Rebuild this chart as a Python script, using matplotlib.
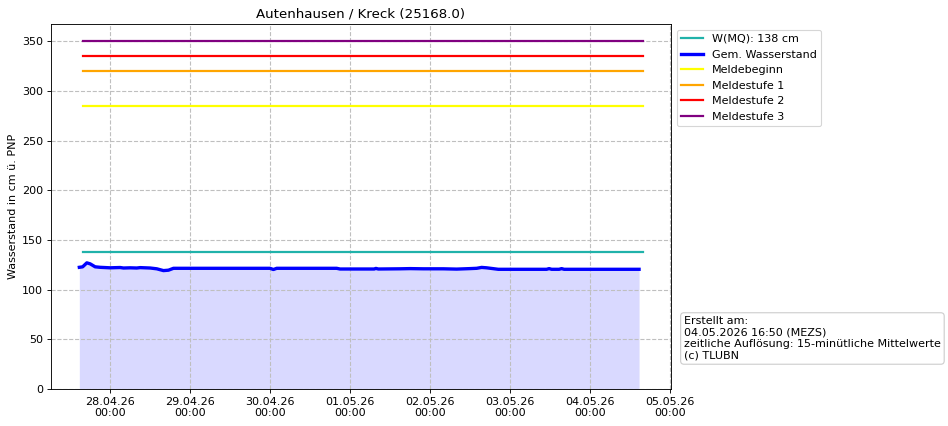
import pandas as pd
import matplotlib
matplotlib.use('Agg')
import matplotlib.pyplot as plt
import matplotlib.dates as mdates

# Pegel / Stammdaten
titel = 'Autenhausen / Kreck (25168.0)'
mq = 138
meldebeginn = 285
meldestufe1 = 320
meldestufe2 = 335
meldestufe3 = 350

zeiten = ['2026-04-27 14:45', '2026-04-27 15:45', '2026-04-27 17:00', '2026-04-27 18:00',
          '2026-04-27 19:30', '2026-04-27 21:00', '2026-04-28 00:00', '2026-04-28 03:00',
          '2026-04-28 04:00', '2026-04-28 06:00', '2026-04-28 08:00', '2026-04-28 09:00',
          '2026-04-28 12:00', '2026-04-28 14:00', '2026-04-28 16:00', '2026-04-28 17:30',
          '2026-04-28 19:00', '2026-04-29 00:00', '2026-04-29 12:00', '2026-04-30 00:00',
          '2026-04-30 01:00', '2026-04-30 02:00', '2026-04-30 03:00', '2026-04-30 12:00',
          '2026-04-30 20:00', '2026-04-30 21:00', '2026-05-01 07:15', '2026-05-01 07:45',
          '2026-05-01 08:30', '2026-05-01 15:00', '2026-05-01 18:00', '2026-05-01 22:00',
          '2026-05-02 04:00', '2026-05-02 08:00', '2026-05-02 12:00', '2026-05-02 14:00',
          '2026-05-02 15:30', '2026-05-02 17:00', '2026-05-02 20:30', '2026-05-03 11:00',
          '2026-05-03 11:45', '2026-05-03 12:30', '2026-05-03 14:45', '2026-05-03 15:30',
          '2026-05-03 16:15', '2026-05-04 00:00', '2026-05-04 14:45']
werte = [122.5, 123.0, 127.0, 126.0,
         123.0, 122.5, 122.0, 122.3,
         121.8, 122.0, 121.8, 122.2,
         121.8, 121.0, 119.2, 119.6,
         121.5, 121.5, 121.5, 121.5,
         120.3, 121.5, 121.5, 121.5,
         121.5, 120.8, 120.8, 121.4,
         120.8, 121.0, 121.2, 121.0,
         121.0, 120.7, 121.2, 121.5,
         122.4, 122.0, 120.5, 120.5,
         121.2, 120.5, 120.5, 121.2,
         120.5, 120.5, 120.5]

linien_start = '2026-04-27 15:45'
linien_ende = '2026-05-04 15:50'

t = pd.to_datetime(zeiten)
t_lin = pd.to_datetime([linien_start, linien_ende])

fig = plt.figure(figsize=(11.85, 5.325), dpi=80)
ax = fig.add_axes([0.0538, 0.0869, 0.6540, 0.8568])

ax.plot(t_lin, [mq, mq], color='lightseagreen', lw=2, label='W(MQ): %d cm' % mq)
ax.plot(t, werte, color='blue', lw=3, label='Gem. Wasserstand')
ax.fill_between(t, 0, werte, color='blue', alpha=0.15, lw=0)
ax.plot(t_lin, [meldebeginn] * 2, color='yellow', lw=2, label='Meldebeginn')
ax.plot(t_lin, [meldestufe1] * 2, color='orange', lw=2, label='Meldestufe 1')
ax.plot(t_lin, [meldestufe2] * 2, color='red', lw=2, label='Meldestufe 2')
ax.plot(t_lin, [meldestufe3] * 2, color='purple', lw=2, label='Meldestufe 3')

ax.set_xlim(pd.Timestamp('2026-04-27 06:15'), pd.Timestamp('2026-05-05 00:20'))
ax.set_ylim(0, 367.5)
ax.xaxis.set_major_locator(mdates.DayLocator())
ax.xaxis.set_major_formatter(mdates.DateFormatter('%d.%m.%y\n%H:%M'))
ax.grid(True, ls='--', color='#bfbfbf', lw=1)
ax.set_title(titel)
ax.set_ylabel('Wasserstand in cm ü. PNP')

ax.legend(loc='upper left', bbox_to_anchor=(1.0, 1.0))

fig.text(0.7215, 0.258,
         'Erstellt am:\n04.05.2026 16:50 (MEZS)\nzeitliche Auflösung: 15-minütliche Mittelwerte\n(c) TLUBN',
         fontsize=10, va='top', ha='left',
         bbox=dict(boxstyle='round,pad=0.3', facecolor='white', edgecolor='#cccccc'))

plt.savefig('out.png', dpi=80)
